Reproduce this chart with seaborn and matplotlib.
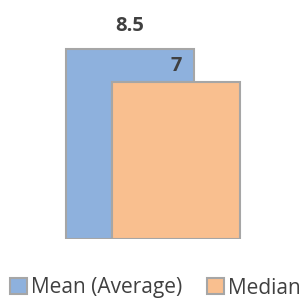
"""Mean vs median overlapping bar chart."""

import matplotlib

matplotlib.use("Agg")
import matplotlib.pyplot as plt
import pandas as pd
import seaborn as sns

# data
stats = ["Mean (Average)", "Median"]
values = [8.5, 7]
value_labels = ["8.5", "7"]
colors = ["#8EB1DD", "#F9BF8F"]

sns.set_style("white")
plt.rcParams["font.family"] = ["Open Sans", "DejaVu Sans"]

df = pd.DataFrame({"group": ["all"] * len(stats), "stat": stats, "value": values})

fig = plt.figure(figsize=(3.06, 2.99), dpi=100)
ax = fig.add_axes([0, 60 / 299, 1, 239 / 299])

sns.barplot(
    data=df,
    x="group",
    y="value",
    hue="stat",
    hue_order=stats,
    palette=colors,
    dodge=False,
    width=0.42,
    edgecolor="#A6A6A6",
    linewidth=1.5,
    saturation=1,
    legend=True,
    ax=ax,
)

# bars overlap: shift each one sideways from the shared centre
shift = 0.075
bars = [p for p in ax.patches if p.get_height() > 0]
for i, bar in enumerate(bars):
    bar.set_x(bar.get_x() + (i - 0.5) * 2 * shift)

label_pad = [16, 12]  # points above the bar top
for bar, txt, pad in zip(bars, value_labels, label_pad):
    ax.annotate(
        txt,
        (bar.get_x() + bar.get_width() / 2, bar.get_height()),
        xytext=(0, pad),
        textcoords="offset points",
        ha="center",
        va="center",
        fontsize=14.5,
        fontweight="bold",
        color="#404040",
    )

ax.set_xlim(-0.5, 0.5)
ax.set_ylim(0, 239 / 22.4)
ax.set_axis_off()

handles, labels = ax.get_legend_handles_labels()
ax.legend(
    handles,
    labels,
    loc="center left",
    bbox_to_anchor=(10 / 306, 11 / 299),
    bbox_transform=fig.transFigure,
    ncol=2,
    frameon=False,
    fontsize=15,
    handlelength=0.8,
    handleheight=0.8,
    handletextpad=0.2,
    columnspacing=1.2,
    borderpad=0,
    borderaxespad=0,
    labelcolor="#404040",
)

fig.savefig("out.png", dpi=100)
